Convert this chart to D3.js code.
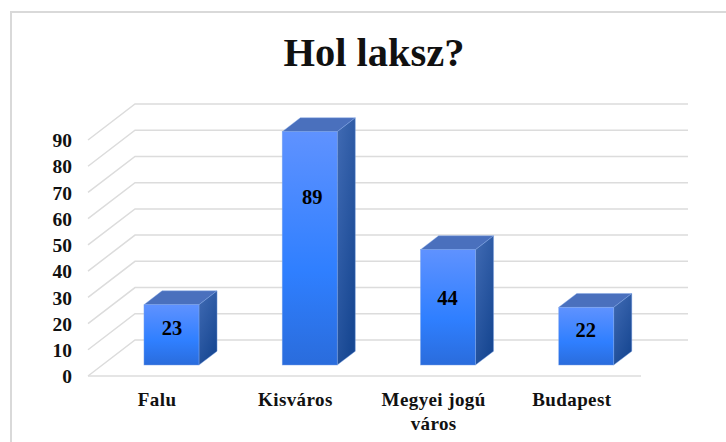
<!DOCTYPE html>
<html>
<head>
<meta charset="utf-8">
<script src="https://cdn.jsdelivr.net/npm/d3@7"></script>
<style>
html,body{margin:0;padding:0;background:#fff;overflow:hidden;}
svg{display:block;}
text{font-family:"Liberation Serif",serif;font-weight:bold;fill:#111;}
</style>
</head>
<body>
<svg id="c" width="726" height="442"></svg>
<script>
const title = "Hol laksz?";
const categories = ["Falu", "Kisváros", "Megyei jogú város", "Budapest"];
const values = [23, 89, 44, 22];
const tickValues = [0, 10, 20, 30, 40, 50, 60, 70, 80, 90];

const svg = d3.select("#c");
const x = d3.scaleBand().domain(categories).range([88, 641]);
const y = d3.scaleLinear().domain([0, 90]).range([376, 140]);
const depthX = 47, depthY = -36;
const barWidth = 55, barFront = 0.305, barDepth = 0.385;

const defs = svg.append("defs");
const front = defs.append("linearGradient").attr("id", "front").attr("x1", 0).attr("y1", 0).attr("x2", 0).attr("y2", 1);
[[0, "#5f92ff"], [0.6, "#2f7fff"], [1, "#2a6cdc"]].forEach(s => front.append("stop").attr("offset", s[0]).attr("stop-color", s[1]));
const side = defs.append("linearGradient").attr("id", "side").attr("x1", 0).attr("y1", 0).attr("x2", 0.6).attr("y2", 1);
[[0, "#416bb4"], [1, "#184893"]].forEach(s => side.append("stop").attr("offset", s[0]).attr("stop-color", s[1]));

// chart frame: top and left edges are the ones in view
const frame = svg.append("g").attr("stroke", "#d9d9d9").attr("stroke-width", 2).attr("fill", "none");
frame.append("path").attr("d", d3.line()([[726, 12], [11, 12], [11, 442]]));

// title
svg.append("text").attr("x", 374).attr("y", 65.5).attr("text-anchor", "middle")
  .attr("font-size", 40.5).text(title);

// grid: wall and side-wall lines
const [x0, x1] = x.range();
const grid = svg.append("g").attr("fill", "none").attr("stroke", "#dcdcdc").attr("stroke-width", 1.5);
tickValues.forEach(v => {
  const py = y(v);
  grid.append("path").attr("d", d3.line()([[x0, py], [x0 + depthX, py + depthY], [x1 + depthX, py + depthY]]));
});
grid.append("path").attr("d", d3.line()([[x0, y(0)], [x1, y(0)]]));

// y tick labels through the library axis
const axis = svg.append("g").attr("transform", `translate(${x0 - 16},0.5)`)
  .call(d3.axisLeft(y).tickValues(tickValues).tickSize(0).tickPadding(0));
axis.select(".domain").remove();
axis.selectAll("text").attr("font-size", 19.5).attr("font-family", "Liberation Serif").attr("fill", "#111");

// bars
const labelNudgeX = [0.5, 2.5, -0.5, -0.5];
const labelLift = [7, 51.5, 9.5, 6];
categories.forEach((c, i) => {
  const v = values[i];
  const l = x(c) + x.bandwidth() / 2 - barWidth / 2 + depthX * barFront;
  const r = l + barWidth;
  const b = y(0) + depthY * barFront;
  const t = y(v) + depthY * barFront;
  const dx = depthX * barDepth, dy = depthY * barDepth;
  const g = svg.append("g").attr("stroke", "#7fa6ea").attr("stroke-width", 0.6).attr("stroke-opacity", 0.7);
  g.append("path").attr("fill", "#4a70bd")
    .attr("d", d3.line()([[l, t], [l + dx, t + dy], [r + dx, t + dy], [r, t]]) + "Z");
  g.append("path").attr("fill", "url(#side)")
    .attr("d", d3.line()([[r, t], [r + dx, t + dy], [r + dx, b + dy], [r, b]]) + "Z");
  g.append("rect").attr("x", l).attr("y", t).attr("width", barWidth).attr("height", b - t).attr("fill", "url(#front)");
  svg.append("text").attr("x", (l + r) / 2 + labelNudgeX[i]).attr("y", (t + b) / 2 - labelLift[i] + 7)
    .attr("text-anchor", "middle").attr("font-size", 20.5).style("fill", "#000").text(v);
});

// category labels
const labelLines = { "Megyei jogú város": ["Megyei jogú", "város"] };
categories.forEach(c => {
  const cx = x(c) + x.bandwidth() / 2;
  (labelLines[c] || [c]).forEach((s, j) => {
    svg.append("text").attr("x", cx).attr("y", 406 + j * 24).attr("text-anchor", "middle")
      .attr("font-size", 19).style("letter-spacing", "0.4px").text(s);
  });
});
</script>
</body>
</html>
